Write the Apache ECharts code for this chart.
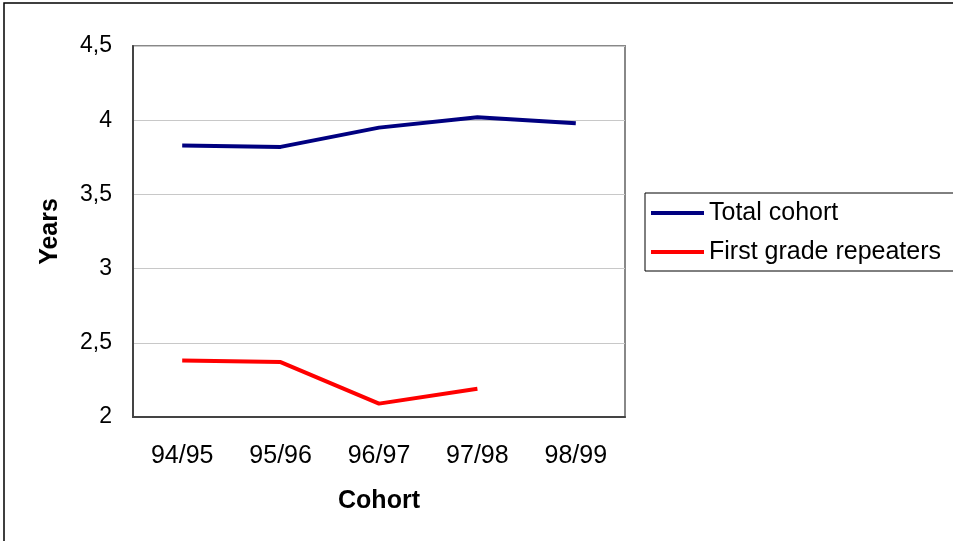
<!DOCTYPE html>
<html><head><meta charset="utf-8">
<script src="https://cdn.jsdelivr.net/npm/echarts@6/dist/echarts.min.js"></script>
<style>html,body{margin:0;padding:0;background:#fff}#c{width:953px;height:541px}</style>
</head><body><div id="c"></div>
<script>
const categories = ['94/95','95/96','96/97','97/98','98/99'];
const totalCohort = [3.83, 3.82, 3.95, 4.02, 3.98];
const firstGradeRepeaters = [2.38, 2.37, 2.09, 2.19, null];
const seriesNames = ['Total cohort', 'First grade repeaters'];
const yTicks = {min: 2, max: 4.5, interval: 0.5};

const chart = echarts.init(document.getElementById('c'), null, {renderer: 'canvas'});
const F = 'Liberation Sans, Arial, sans-serif';
chart.setOption({
  animation: false,
  backgroundColor: '#fff',
  graphic: [{type: 'rect', shape: {x: 4, y: 3, width: 970, height: 560}, style: {fill: 'none', stroke: '#000', lineWidth: 1.5}}],
  grid: {left: 133, top: 46, width: 492, height: 371, show: true, borderColor: '#888', borderWidth: 2, backgroundColor: '#fff'},
  legend: {
    orient: 'vertical', left: 645, top: 193,
    data: seriesNames,
    icon: 'rect', itemWidth: 53, itemHeight: 4, itemGap: 9,
    borderColor: '#000', borderWidth: 1, padding: [5, 40, 4, 6],
    textStyle: {fontFamily: F, fontSize: 25, color: '#000', lineHeight: 30}
  },
  xAxis: {
    type: 'category', data: categories, boundaryGap: true,
    name: 'Cohort', nameLocation: 'middle', nameGap: 72,
    nameTextStyle: {fontFamily: F, fontSize: 25, fontWeight: 'bold', color: '#000'},
    axisLine: {lineStyle: {color: '#444', width: 2}},
    axisTick: {show: false},
    axisLabel: {fontFamily: F, fontSize: 25, color: '#000', margin: 27},
    splitLine: {show: false}
  },
  yAxis: {
    type: 'value', min: yTicks.min, max: yTicks.max, interval: yTicks.interval,
    name: 'Years', nameLocation: 'middle', nameGap: 70,
    nameTextStyle: {fontFamily: F, fontSize: 25, fontWeight: 'bold', color: '#000'},
    axisLine: {show: true, lineStyle: {color: '#444', width: 2}},
    axisTick: {show: false},
    axisLabel: {fontFamily: F, fontSize: 23, color: '#000', margin: 21, formatter: v => String(v).replace('.', ',')},
    splitLine: {lineStyle: {color: '#c8c8c8', width: 1}}
  },
  series: [
    {name: seriesNames[0], type: 'line', data: totalCohort, symbol: 'none', lineStyle: {color: '#000080', width: 4}, itemStyle: {color: '#000080'}},
    {name: seriesNames[1], type: 'line', data: firstGradeRepeaters, symbol: 'none', lineStyle: {color: '#ff0000', width: 4}, itemStyle: {color: '#ff0000'}}
  ]
});
</script></body></html>
